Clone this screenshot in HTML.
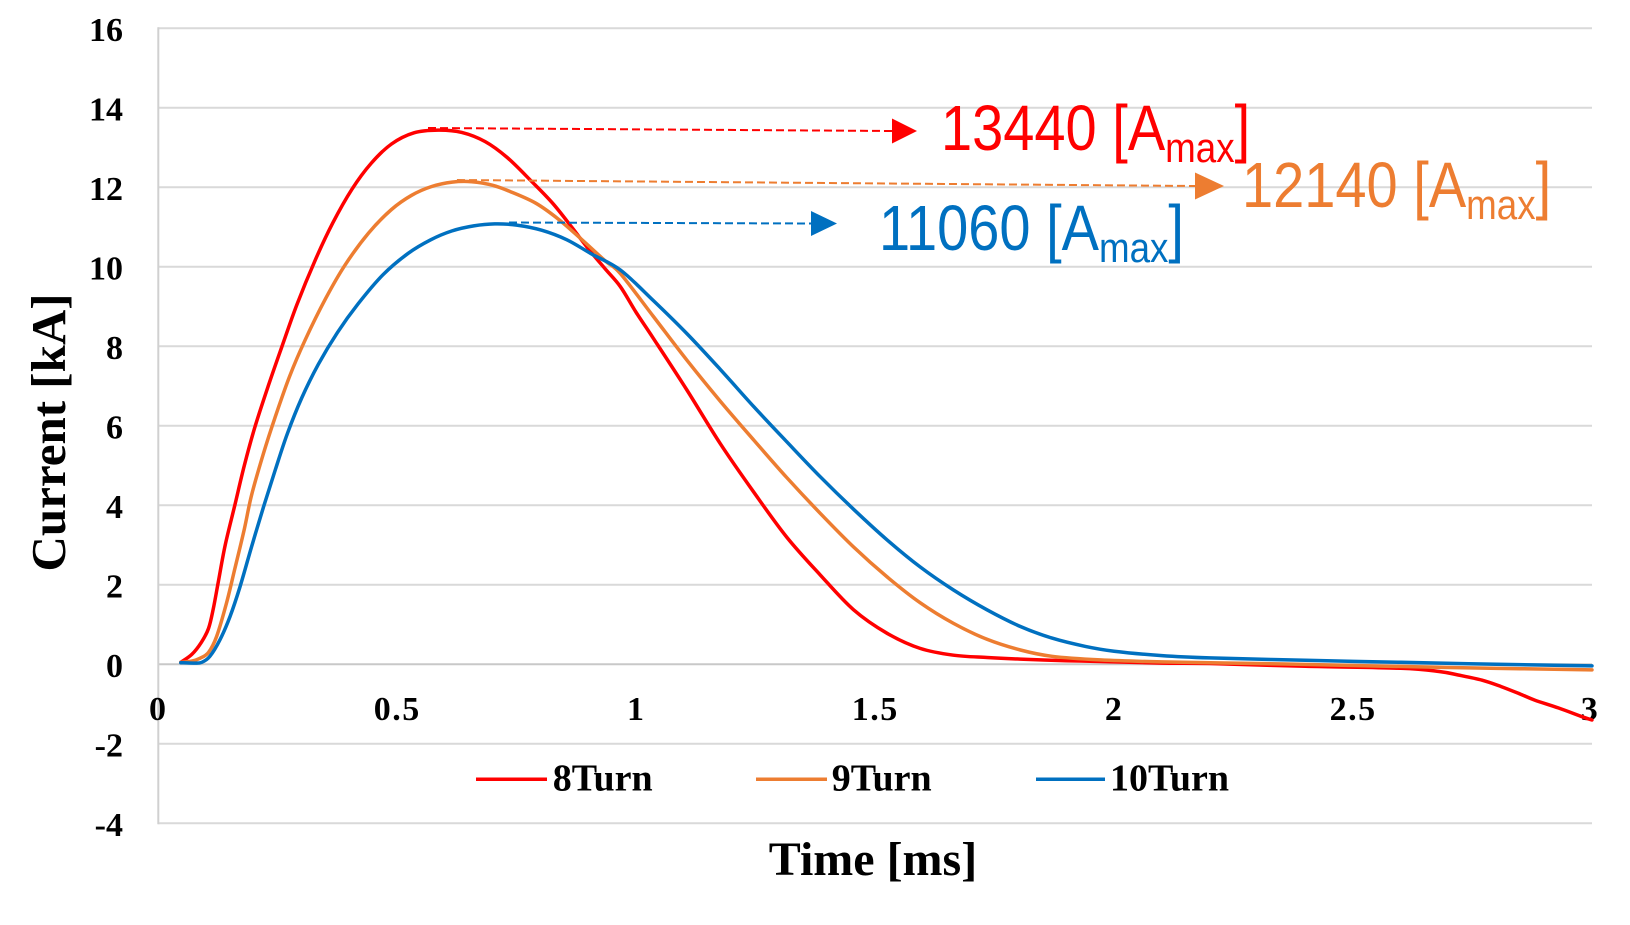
<!DOCTYPE html>
<html>
<head>
<meta charset="utf-8">
<style>
  html, body { margin: 0; padding: 0; background: #ffffff; }
  body { width: 1630px; height: 925px; overflow: hidden; }
  svg { display: block; }
  .tick { font-family: "Liberation Serif", "Times New Roman", serif; font-weight: bold; font-size: 34px; fill: #000; }
  .xt { letter-spacing: 1.5px; }
  .leg { font-family: "Liberation Serif", "Times New Roman", serif; font-weight: bold; font-size: 38px; fill: #000; }
  .title { font-family: "Liberation Serif", "Times New Roman", serif; font-weight: bold; font-size: 48px; fill: #000; }
  .ann { font-family: "Liberation Sans", Arial, sans-serif; font-size: 64px; }
  .sub { font-size: 42px; }
</style>
</head>
<body>
<svg width="1630" height="925" viewBox="0 0 1630 925" xmlns="http://www.w3.org/2000/svg">
  <rect x="0" y="0" width="1630" height="925" fill="#ffffff"/>

  <!-- gridlines -->
  <g stroke="#d9d9d9" stroke-width="2" fill="none">
    <line x1="158.3" y1="28.3" x2="1592" y2="28.3"/>
    <line x1="158.3" y1="107.8" x2="1592" y2="107.8"/>
    <line x1="158.3" y1="187.3" x2="1592" y2="187.3"/>
    <line x1="158.3" y1="266.8" x2="1592" y2="266.8"/>
    <line x1="158.3" y1="346.3" x2="1592" y2="346.3"/>
    <line x1="158.3" y1="425.8" x2="1592" y2="425.8"/>
    <line x1="158.3" y1="505.3" x2="1592" y2="505.3"/>
    <line x1="158.3" y1="584.8" x2="1592" y2="584.8"/>
    <line x1="158.3" y1="743.8" x2="1592" y2="743.8"/>
    <line x1="158.3" y1="823.3" x2="1592" y2="823.3"/>
  </g>
  <line x1="158.3" y1="664.3" x2="1592" y2="664.3" stroke="#c8c8c8" stroke-width="2"/>
  <line x1="158.3" y1="27.3" x2="158.3" y2="824.3" stroke="#d0d0d0" stroke-width="2"/>

  <!-- y tick labels -->
  <g class="tick" text-anchor="end">
    <text x="123" y="40.8">16</text>
    <text x="123" y="120.3">14</text>
    <text x="123" y="199.8">12</text>
    <text x="123" y="279.3">10</text>
    <text x="123" y="358.8">8</text>
    <text x="123" y="438.3">6</text>
    <text x="123" y="517.8">4</text>
    <text x="123" y="597.3">2</text>
    <text x="123" y="676.8">0</text>
    <text x="123" y="756.3">-2</text>
    <text x="123" y="835.8">-4</text>
  </g>

  <!-- x tick labels -->
  <g class="tick xt" text-anchor="middle">
    <text x="158.3" y="720">0</text>
    <text x="397.3" y="720">0.5</text>
    <text x="636.2" y="720">1</text>
    <text x="875.2" y="720">1.5</text>
    <text x="1114.1" y="720">2</text>
    <text x="1353.1" y="720">2.5</text>
    <text x="1590" y="720">3</text>
  </g>

  <!-- series -->
  <g id="series" fill="none" stroke-width="3.5" stroke-linejoin="round" stroke-linecap="round">
    <polyline class="smooth" stroke="#ff0000" points="180.8,662.3 191.8,654.4 201.3,642.4 208.5,628.5 213.3,608.7 218.5,580.8 225.2,545.1 234.8,505.3 244.3,465.6 254.8,427.4 268.2,386.1 281.6,347.5 296.9,304.6 315.1,260.4 332.7,223.1 351.9,189.3 371.0,163.5 391.5,144.0 414.0,132.8 438.4,130.1 461.8,132.4 485.2,141.6 507.2,157.5 531.5,181.3 552.6,203.2 571.7,227.1 588.4,248.9 605.1,268.8 620.4,286.7 636.2,312.5 653.4,338.4 686.9,390.0 720.3,443.7 753.8,492.2 786.7,537.1 820.2,574.9 853.6,609.8 887.1,633.3 920.1,648.4 953.5,655.2 987.0,657.5 1020.4,659.1 1066.3,660.7 1100.2,661.5 1161.9,663.1 1209.7,663.5 1305.3,666.3 1400.8,668.3 1439.1,671.5 1458.2,675.0 1482.1,680.2 1501.2,686.6 1520.3,694.1 1534.7,700.1 1558.6,708.0 1582.4,716.8 1592.0,720.0"/>
    <polyline class="smooth" stroke="#ed7d31" points="180.8,662.3 191.8,661.1 199.9,658.3 208.5,652.4 216.6,636.5 226.6,602.7 234.8,568.9 244.3,529.2 251.5,495.4 263.4,453.6 274.9,417.9 289.7,376.1 305.0,340.3 325.6,298.6 345.2,264.8 368.6,233.0 391.5,209.5 411.6,195.3 431.7,186.5 452.2,182.1 471.8,181.7 492.8,185.3 511.5,192.1 535.8,203.2 558.3,219.1 581.2,239.0 605.1,260.8 620.4,273.6 653.4,316.5 686.9,360.2 720.3,401.2 753.8,440.1 786.7,477.5 820.2,513.3 853.6,547.0 887.1,576.9 920.1,602.7 953.5,623.4 987.0,639.3 1020.4,650.0 1052.0,656.3 1100.2,659.9 1161.9,661.9 1257.5,663.5 1353.1,665.5 1448.6,667.5 1520.3,668.7 1592.0,669.9"/>
    <polyline class="smooth" stroke="#0070c0" points="180.8,662.7 194.1,663.1 201.8,662.3 209.9,656.3 220.0,639.7 230.0,616.6 240.0,586.8 251.5,547.0 263.4,507.3 275.4,469.5 287.3,433.8 301.7,398.0 318.4,364.2 337.5,332.4 358.1,303.8 382.9,274.8 408.2,253.3 430.7,239.8 451.7,231.0 473.7,225.9 494.7,223.9 516.7,225.1 541.6,230.2 566.9,239.8 591.8,254.1 620.4,270.0 653.4,300.6 686.9,333.6 720.3,369.4 753.8,406.7 786.7,441.7 820.2,476.7 853.6,509.3 887.1,539.9 920.1,566.9 953.5,590.0 987.0,609.8 1020.4,626.5 1052.0,638.1 1085.4,646.4 1114.1,651.2 1161.9,655.6 1209.7,657.9 1305.3,660.3 1400.8,662.3 1496.4,664.3 1592.0,665.9"/>
  </g>

  <!-- annotation dashed lines + arrows -->
  <g fill="none" stroke-width="2" stroke-dasharray="8,4">
    <line x1="428" y1="128" x2="893" y2="131" stroke="#ff0000"/>
    <line x1="457" y1="180" x2="1196" y2="186" stroke="#ed7d31"/>
    <line x1="509" y1="222.5" x2="812" y2="223.5" stroke="#0070c0"/>
  </g>
  <polygon points="892,118.5 917,131 892,143.5" fill="#ff0000"/>
  <polygon points="1195,172.5 1224,186 1195,199.5" fill="#ed7d31"/>
  <polygon points="811,211 837,223.5 811,236" fill="#0070c0"/>

  <!-- annotation texts -->
  <g transform="translate(941,150) scale(0.875,1)">
    <text class="ann" x="0" y="0" fill="#ff0000">13440 [A<tspan class="sub" dy="12">max</tspan><tspan dy="-12">]</tspan></text>
  </g>
  <g transform="translate(1242,207) scale(0.875,1)">
    <text class="ann" x="0" y="0" fill="#ed7d31">12140 [A<tspan class="sub" dy="12">max</tspan><tspan dy="-12">]</tspan></text>
  </g>
  <g transform="translate(879,250) scale(0.875,1)">
    <text class="ann" x="0" y="0" fill="#0070c0">11060 [A<tspan class="sub" dy="12">max</tspan><tspan dy="-12">]</tspan></text>
  </g>

  <!-- legend -->
  <g stroke-width="3.5" stroke-linecap="butt">
    <line x1="476" y1="779.3" x2="547" y2="779.3" stroke="#ff0000"/>
    <line x1="756" y1="779.3" x2="827" y2="779.3" stroke="#ed7d31"/>
    <line x1="1036" y1="779.3" x2="1105" y2="779.3" stroke="#0070c0"/>
  </g>
  <text class="leg" x="552.7" y="790.7">8Turn</text>
  <text class="leg" x="831.7" y="790.7">9Turn</text>
  <text class="leg" x="1110" y="790.7">10Turn</text>

  <!-- axis titles -->
  <text class="title" x="873" y="875" text-anchor="middle">Time [ms]</text>
  <text class="title" transform="translate(65,432.5) rotate(-90)" x="0" y="0" text-anchor="middle" style="font-size:49px">Current [kA]</text>
</svg>
<script>
(function(){
  var NS = 'http://www.w3.org/2000/svg';
  var pls = document.querySelectorAll('polyline.smooth');
  for (var k = 0; k < pls.length; k++) {
    var pl = pls[k];
    var raw = pl.getAttribute('points').trim().split(/\s+/);
    var pts = raw.map(function(p){ var a = p.split(','); return [parseFloat(a[0]), parseFloat(a[1])]; });
    var d = 'M' + pts[0][0] + ',' + pts[0][1];
    for (var i = 0; i < pts.length - 1; i++) {
      var p0 = pts[i-1] || pts[i], p1 = pts[i], p2 = pts[i+1], p3 = pts[i+2] || pts[i+1];
      var c1x = p1[0] + (p2[0] - p0[0]) / 6, c1y = p1[1] + (p2[1] - p0[1]) / 6;
      var c2x = p2[0] - (p3[0] - p1[0]) / 6, c2y = p2[1] - (p3[1] - p1[1]) / 6;
      d += ' C' + c1x.toFixed(2) + ',' + c1y.toFixed(2) + ' ' + c2x.toFixed(2) + ',' + c2y.toFixed(2) + ' ' + p2[0] + ',' + p2[1];
    }
    var path = document.createElementNS(NS, 'path');
    path.setAttribute('d', d);
    path.setAttribute('stroke', pl.getAttribute('stroke'));
    path.setAttribute('fill', 'none');
    pl.parentNode.replaceChild(path, pl);
  }
})();
</script>
</body>
</html>
